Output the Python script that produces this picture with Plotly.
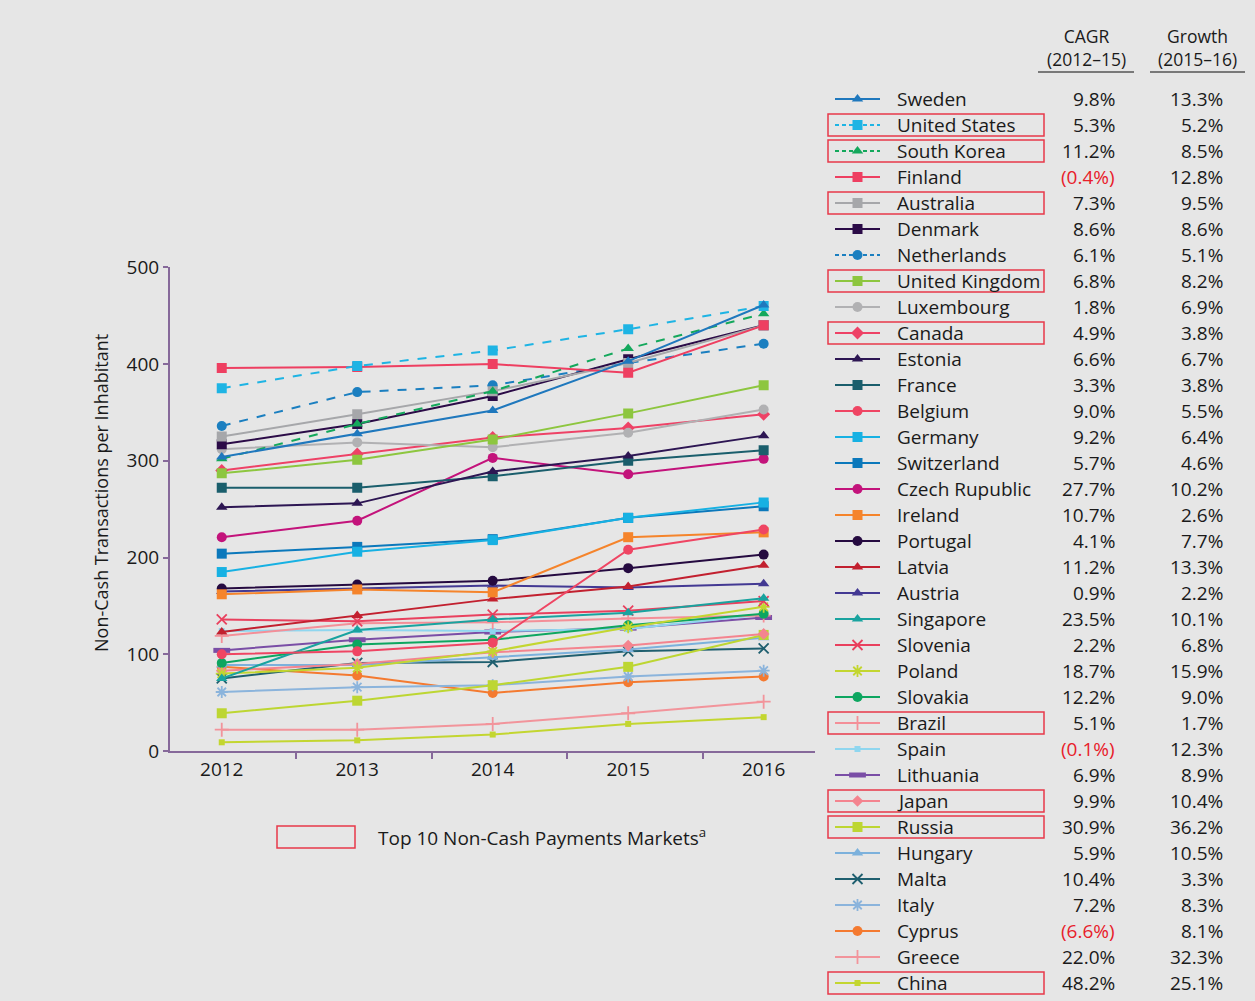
import plotly.graph_objects as go

W, H = 1255, 1001

years = [2012, 2013, 2014, 2015, 2016]

sweden = [304, 328, 352, 403, 461]
united_states = [375, 398, 414, 436, 460]
south_korea = [302, 338, 372, 416, 452]
finland = [396, 397, 400, 391, 440]
australia = [325, 348, 372, 401, 440]
denmark = [317, 338, 367, 405, 440]
netherlands = [336, 371, 378, 401, 421]
united_kingdom = [287, 301, 322, 349, 378]
luxembourg = [312, 319, 314, 329, 353]
canada = [290, 307, 324, 334, 348]
estonia = [252, 256, 289, 305, 326]
france = [272, 272, 284, 300, 311]
belgium = [100, 103, 112, 208, 229]
germany = [185, 206, 218, 241, 257]
switzerland = [204, 211, 219, 241, 253]
czech = [221, 238, 303, 286, 302]
ireland = [162, 167, 164, 221, 226]
portugal = [168, 172, 176, 189, 203]
latvia = [123, 140, 157, 170, 192]
austria = [165, 168, 171, 169, 173]
singapore = [75, 125, 136, 143, 158]
slovenia = [136, 134, 141, 145, 155]
poland = [80, 86, 103, 128, 149]
slovakia = [91, 110, 115, 130, 142]
brazil = [119, 132, 133, 137, 140]
spain = [124, 125, 124, 126, 141]
lithuania = [104, 115, 123, 127, 138]
japan = [83, 90, 102, 109, 121]
russia = [39, 52, 68, 87, 120]
hungary = [89, 89, 97, 105, 117]
malta = [75, 91, 92, 103, 106]
italy = [61, 66, 68, 77, 83]
cyprus = [87, 78, 60, 71, 77]
greece = [22, 22, 28, 39, 51]
china = [9, 11, 17, 28, 35]

countries = ["Sweden", "United States", "South Korea", "Finland", "Australia", "Denmark",
             "Netherlands", "United Kingdom", "Luxembourg", "Canada", "Estonia", "France",
             "Belgium", "Germany", "Switzerland", "Czech Rupublic", "Ireland", "Portugal",
             "Latvia", "Austria", "Singapore", "Slovenia", "Poland", "Slovakia", "Brazil",
             "Spain", "Lithuania", "Japan", "Russia", "Hungary", "Malta", "Italy", "Cyprus",
             "Greece", "China"]
series = [sweden, united_states, south_korea, finland, australia, denmark, netherlands,
          united_kingdom, luxembourg, canada, estonia, france, belgium, germany, switzerland,
          czech, ireland, portugal, latvia, austria, singapore, slovenia, poland, slovakia,
          brazil, spain, lithuania, japan, russia, hungary, malta, italy, cyprus, greece, china]
cagr = ["9.8%", "5.3%", "11.2%", "(0.4%)", "7.3%", "8.6%", "6.1%", "6.8%", "1.8%", "4.9%",
        "6.6%", "3.3%", "9.0%", "9.2%", "5.7%", "27.7%", "10.7%", "4.1%", "11.2%", "0.9%",
        "23.5%", "2.2%", "18.7%", "12.2%", "5.1%", "(0.1%)", "6.9%", "9.9%", "30.9%", "5.9%",
        "10.4%", "7.2%", "(6.6%)", "22.0%", "48.2%"]
growth = ["13.3%", "5.2%", "8.5%", "12.8%", "9.5%", "8.6%", "5.1%", "8.2%", "6.9%", "3.8%",
          "6.7%", "3.8%", "5.5%", "6.4%", "4.6%", "10.2%", "2.6%", "7.7%", "13.3%", "2.2%",
          "10.1%", "6.8%", "15.9%", "9.0%", "1.7%", "12.3%", "8.9%", "10.4%", "36.2%", "10.5%",
          "3.3%", "8.3%", "8.1%", "32.3%", "25.1%"]
top10 = ["United States", "South Korea", "Australia", "United Kingdom", "Canada",
         "Brazil", "Japan", "Russia", "China"]

# styles: color, marker symbol, marker size, dash
styles = {
    "Sweden": ("#1f78bd", "triangle-up", 10, "solid"),
    "United States": ("#1eb4e4", "square", 10, "dash"),
    "South Korea": ("#14a85c", "triangle-up", 10, "dash"),
    "Finland": ("#ee3f61", "square", 10, "solid"),
    "Australia": ("#a6a7aa", "square", 10, "solid"),
    "Denmark": ("#2b0b47", "square", 10, "solid"),
    "Netherlands": ("#1b7fc0", "circle", 10, "dash"),
    "United Kingdom": ("#8dc63f", "square", 10, "solid"),
    "Luxembourg": ("#b1b1b3", "circle", 10, "solid"),
    "Canada": ("#ee4266", "diamond", 10, "solid"),
    "Estonia": ("#2d1653", "triangle-up", 10, "solid"),
    "France": ("#1a5e6c", "square", 10, "solid"),
    "Belgium": ("#ef4563", "circle", 10, "solid"),
    "Germany": ("#17b1e3", "square", 10, "solid"),
    "Switzerland": ("#0b78bb", "square", 10, "solid"),
    "Czech Rupublic": ("#c3137b", "circle", 10, "solid"),
    "Ireland": ("#f5842b", "square", 10, "solid"),
    "Portugal": ("#250a40", "circle", 10, "solid"),
    "Latvia": ("#c2202f", "triangle-up", 10, "solid"),
    "Austria": ("#433993", "triangle-up", 10, "solid"),
    "Singapore": ("#19a39f", "triangle-up", 10, "solid"),
    "Slovenia": ("#e9405e", "x-thin-open", 10, "solid"),
    "Poland": ("#c3d630", "asterisk-open", 10, "solid"),
    "Slovakia": ("#0da660", "circle", 10, "solid"),
    "Brazil": ("#f48f98", "cross-thin-open", 10, "solid"),
    "Spain": ("#8fd6ef", "square", 6, "solid"),
    "Lithuania": ("#7a4ea6", "line-ew-open", 12, "solid"),
    "Japan": ("#f4848f", "diamond", 9, "solid"),
    "Russia": ("#bdd632", "square", 10, "solid"),
    "Hungary": ("#7cb1dc", "triangle-up", 10, "solid"),
    "Malta": ("#1f5f6f", "x-thin-open", 10, "solid"),
    "Italy": ("#8bb4dc", "asterisk-open", 10, "solid"),
    "Cyprus": ("#f47a30", "circle", 10, "solid"),
    "Greece": ("#f2949b", "cross-thin-open", 10, "solid"),
    "China": ("#c3d630", "square", 6, "solid"),
}


def mline(sym, col):
    if sym == "line-ew-open":
        return dict(width=5, color=col)
    if sym.endswith("-open"):
        return dict(width=1.8, color=col)
    return dict(width=0, color=col)


fig = go.Figure()

# main chart (draw in reverse so top rows end up on top)
for name, vals in reversed(list(zip(countries, series))):
    col, sym, sz, dash = styles[name]
    fig.add_trace(go.Scatter(
        x=years, y=vals, mode="lines+markers", name=name,
        line=dict(color=col, width=2, dash=dash),
        marker=dict(symbol=sym, size=sz, color=col, line=mline(sym, col)),
        showlegend=False, xaxis="x", yaxis="y"))

# right-hand legend table on an overlay pixel-based axis
ROW0, ROW_H = 99, 26.0
SW_X0, SW_X1 = 835, 880
for i, name in enumerate(countries):
    col, sym, sz, dash = styles[name]
    fig.add_trace(go.Scatter(
        x=[SW_X0, (SW_X0 + SW_X1) / 2, SW_X1], y=[i, i, i], mode="lines+markers",
        line=dict(color=col, width=2, dash=dash if dash == "solid" else "4px,3px"),
        marker=dict(symbol=sym, size=sz, color=col, line=mline(sym, col), opacity=[0, 1, 0]),
        showlegend=False, hoverinfo="skip", xaxis="x2", yaxis="y2"))

FONT = "Open Sans, Noto Sans, sans-serif"
annotations = []
shapes = []
RED = "#e8202a"
for i, name in enumerate(countries):
    annotations.append(dict(x=895, y=i, xref="x2", yref="y2", text=name, showarrow=False,
                            xanchor="left", yanchor="middle",
                            font=dict(family=FONT, size=19, color="#1a1a1a")))
    neg = cagr[i].startswith("(")
    annotations.append(dict(x=1117, y=i, xref="x2", yref="y2", text=cagr[i], showarrow=False,
                            xanchor="right", yanchor="middle",
                            font=dict(family=FONT, size=19, color=RED if neg else "#1a1a1a")))
    annotations.append(dict(x=1225, y=i, xref="x2", yref="y2", text=growth[i], showarrow=False,
                            xanchor="right", yanchor="middle",
                            font=dict(family=FONT, size=19, color="#1a1a1a")))
    if name in top10:
        shapes.append(dict(type="rect", xref="x2", yref="y2", x0=828, x1=1044,
                           y0=i - 0.42, y1=i + 0.42, line=dict(color="#e8394a", width=1.5)))

# headers
for cx, txt, ux0, ux1 in [(1086, "CAGR<br>(2012–15)", 1038, 1134),
                          (1197, "Growth<br>(2015–16)", 1150, 1245)]:
    annotations.append(dict(x=cx, y=(47 - ROW0) / ROW_H, xref="x2", yref="y2", text=txt,
                            showarrow=False, xanchor="center", yanchor="middle",
                            font=dict(family=FONT, size=17.5, color="#1a1a1a")))
    shapes.append(dict(type="line", xref="x2", yref="y2", x0=ux0, x1=ux1,
                       y0=(72 - ROW0) / ROW_H, y1=(72 - ROW0) / ROW_H,
                       line=dict(color="#555555", width=1.5)))

# bottom note
shapes.append(dict(type="rect", xref="paper", yref="paper", x0=277 / W, x1=355 / W,
                   y0=1 - 848 / H, y1=1 - 826 / H, line=dict(color="#e8394a", width=1.5)))
annotations.append(dict(x=376 / W, y=1 - 837 / H, xref="paper", yref="paper",
                        text="Top 10 Non-Cash Payments Markets<sup>a</sup>", showarrow=False,
                        xanchor="left", yanchor="middle",
                        font=dict(family=FONT, size=19, color="#1a1a1a")))
# y axis title
annotations.append(dict(x=101 / W, y=1 - 493 / H, xref="paper", yref="paper",
                        text="Non-Cash Transactions per Inhabitant", textangle=-90,
                        showarrow=False, xanchor="center", yanchor="middle",
                        font=dict(family=FONT, size=18, color="#1a1a1a")))

AX = "#86699a"
fig.update_layout(
    width=W, height=H, template="none",
    margin=dict(l=0, r=0, t=0, b=0),
    paper_bgcolor="#e6e6e6", plot_bgcolor="rgba(0,0,0,0)",
    showlegend=False,
    xaxis=dict(domain=[170 / W, 815 / W], range=[2011.618, 2016.379],
               tickvals=years, ticktext=[str(y) for y in years], ticks="",
               showgrid=False, zeroline=False, showline=True, linecolor=AX, linewidth=2,
               tickfont=dict(family=FONT, size=19, color="#1a1a1a"),
               minor=dict(tick0=2011.55, dtick=1, ticks="outside", ticklen=6,
                          tickcolor=AX, tickwidth=1.5, showgrid=False),
               anchor="y"),
    yaxis=dict(domain=[1 - 751 / H, 1 - 267.3 / H], range=[0, 500], dtick=100,
               ticks="outside", ticklen=5, tickcolor=AX, tickwidth=1.5,
               showgrid=False, zeroline=False, showline=True, linecolor=AX, linewidth=2,
               tickfont=dict(family=FONT, size=19, color="#1a1a1a"), anchor="x"),
    xaxis2=dict(domain=[0, 1], range=[0, W], visible=False, anchor="y2", fixedrange=True),
    yaxis2=dict(domain=[0, 1], range=[(H - ROW0) / ROW_H, -ROW0 / ROW_H], visible=False,
                anchor="x2", fixedrange=True),
    annotations=annotations, shapes=shapes,
)

fig.write_html("out.html", config={"displayModeBar": False},
               post_script="document.body.style.margin='0';document.body.style.overflow='hidden';")
